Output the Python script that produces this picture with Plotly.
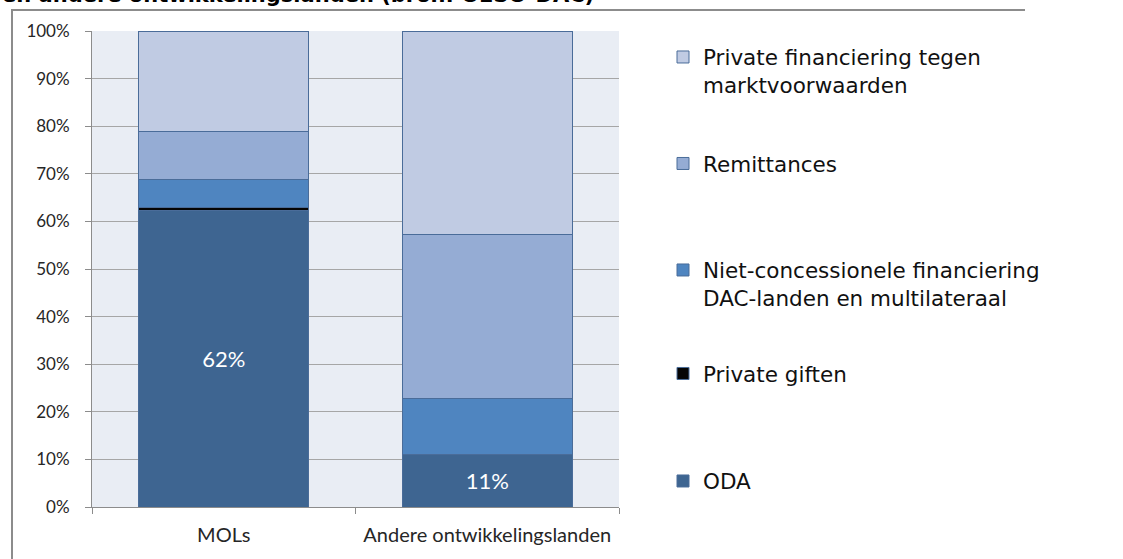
import plotly.graph_objects as go

categories = ["MOLs", "Andere ontwikkelingslanden"]
series_names = [
    "ODA",
    "Private giften",
    "Niet-concessionele financiering<br>DAC-landen en multilateraal",
    "Remittances",
    "Private financiering tegen<br>marktvoorwaarden",
]
oda = [62.3, 11.0]
private_giften = [0.6, 0.0]
niet_concessioneel = [5.9, 11.9]
remittances = [10.0, 34.3]
private_financiering = [21.2, 42.8]
title_text = "en andere ontwikkelingslanden (bron: OESO-DAC)"

values = [oda, private_giften, niet_concessioneel, remittances, private_financiering]
colors = ["#3E6591", "#050505", "#4F85C0", "#95ACD4", "#C0CBE3"]
outline = "#4A6C99"

# plot area in pixels
W, H = 1123, 559
L, R, T, B = 92, 1123 - 619, 31, 559 - 507
pw, ph = W - L - R, H - T - B


def px_x(px):
    return (px - L) / pw


def px_y(py):
    return (H - B - py) / ph


legend_pos = [  # (legend id, y centre px, valign)
    ("legend5", 481, "middle"),
    ("legend4", 373.5, "middle"),
    ("legend3", 284, "top"),
    ("legend2", 163.5, "middle"),
    ("legend", 71, "top"),
]

fig = go.Figure()
for i, (name, vals, col) in enumerate(zip(series_names, values, colors)):
    lw = [1 if v > 0 else 0 for v in vals]
    kw = {}
    if i == 0:
        kw = dict(
            text=[f"{round(v)}%" for v in vals],
            textposition="inside",
            insidetextanchor="middle",
            textfont=dict(family="Lato", size=22, color="white"),
        )
    fig.add_trace(
        go.Bar(
            x=categories,
            y=vals,
            name=name,
            marker=dict(color=col, line=dict(color=outline, width=lw)),
            legend=legend_pos[i][0],
            hoverinfo="skip",
            **kw,
        )
    )

leg_x = px_x(663)
layout_legends = {}
for lid, cy, va in legend_pos:
    layout_legends[lid] = dict(
        x=leg_x,
        xanchor="left",
        y=px_y(cy),
        yanchor="middle",
        valign=va,
        font=dict(family="DejaVu Sans", size=21.5, color="#111111"),
        bgcolor="rgba(0,0,0,0)",
        borderwidth=0,
        itemclick=False,
        itemdoubleclick=False,
    )

fig.update_layout(
    width=W,
    height=H,
    margin=dict(l=L, r=R, t=T, b=B, pad=0, autoexpand=False),
    barmode="stack",
    bargap=0.355,
    plot_bgcolor="#E9EDF4",
    paper_bgcolor="white",
    showlegend=True,
    **layout_legends,
    xaxis=dict(
        type="category",
        automargin=False,
        tickangle=0,
        showline=True,
        linecolor="#8C8C8C",
        linewidth=1,
        ticks="outside",
        tickson="boundaries",
        ticklen=6,
        tickcolor="#8C8C8C",
        showgrid=False,
        tickfont=dict(family="Lato", size=20, color="#262626"),
        ticklabelstandoff=10,
    ),
    yaxis=dict(
        automargin=False,
        range=[0, 100],
        dtick=10,
        ticksuffix="%",
        showline=True,
        linecolor="#8C8C8C",
        linewidth=1,
        ticks="outside",
        ticklen=6,
        tickcolor="#8C8C8C",
        showgrid=True,
        gridcolor="#A6A6A6",
        gridwidth=1,
        zeroline=False,
        tickfont=dict(family="Lato", size=17, color="#262626"),
        ticklabelstandoff=12,
    ),
)

# chart frame (left and top border of the embedded chart object)
fig.add_shape(
    type="path",
    xref="paper",
    yref="paper",
    path=f"M {px_x(12)} {px_y(559)} L {px_x(12)} {px_y(10)} L {px_x(1025)} {px_y(10)}",
    line=dict(color="#8C8C8C", width=2),
    layer="below",
)

fig.add_annotation(
    text=f"<b>{title_text}</b>",
    xref="paper",
    yref="paper",
    x=px_x(0),
    y=px_y(-5),
    xanchor="left",
    yanchor="middle",
    showarrow=False,
    font=dict(family="DejaVu Sans", size=21, color="black"),
)

fig.write_html(
    "out.html",
    config={"displayModeBar": False, "responsive": False},
    post_script="document.body.style.margin='0';document.body.style.overflow='hidden';",
)
